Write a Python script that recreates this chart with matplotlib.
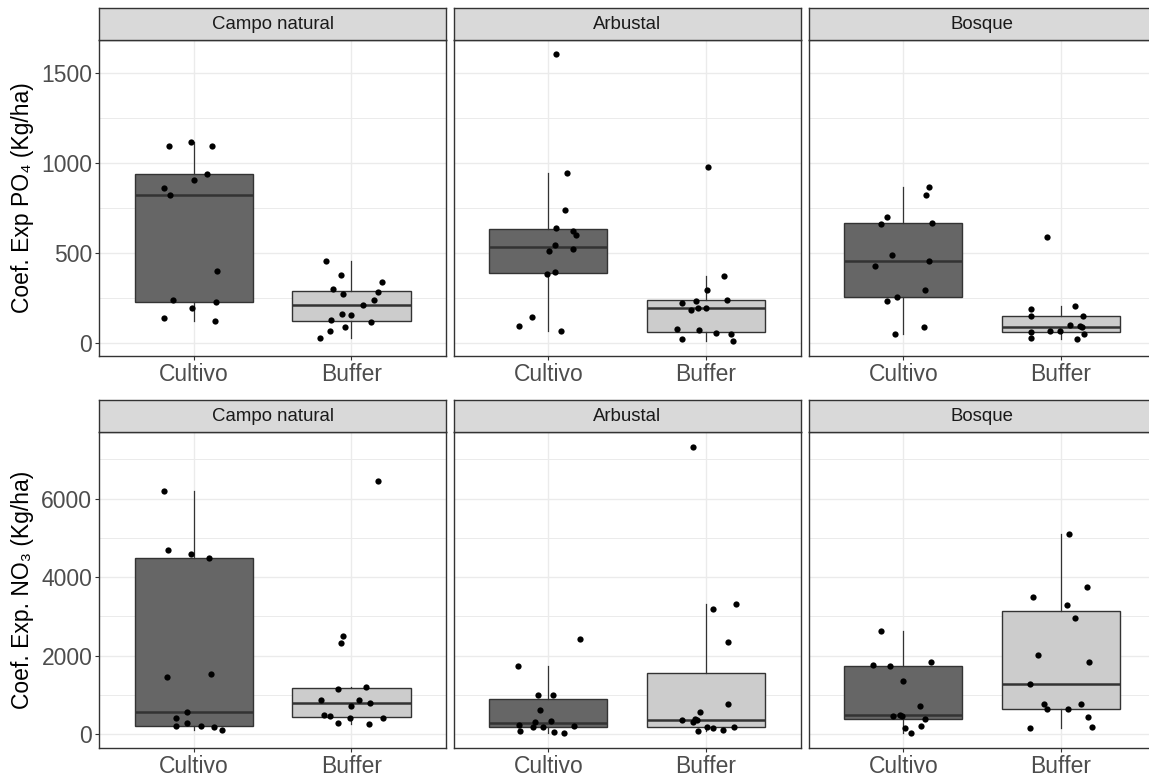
import matplotlib
matplotlib.use("Agg")
import matplotlib.pyplot as plt
from matplotlib.ticker import MultipleLocator

OUTPUT_PNG = "out.png"

COVERS = ["Campo natural", "Arbustal", "Bosque"]
GROUPS = ["Cultivo", "Buffer"]

# PO4 export coefficients (Kg/ha)
PO4_CAMPO_CULTIVO = [1092, 1117, 1092, 938, 903, 860, 819, 400, 238, 194, 225, 134, 121]
PO4_CAMPO_BUFFER = [452, 374, 296, 270, 335, 283, 238, 207, 160, 154, 128, 115, 84, 63, 24]
PO4_ARBUSTAL_CULTIVO = [1602, 944, 737, 638, 620, 599, 543, 523, 510, 395, 382, 143, 91, 65]
PO4_ARBUSTAL_BUFFER = [975, 368, 290, 238, 231, 218, 194, 194, 182, 78, 69, 52, 47, 19, 7]
PO4_BOSQUE_CULTIVO = [865, 819, 696, 664, 659, 489, 452, 426, 290, 251, 231, 84, 50]
PO4_BOSQUE_BUFFER = [586, 201, 188, 149, 149, 99, 93, 84, 63, 63, 60, 50, 24, 19]

# NO3 export coefficients (Kg/ha)
NO3_CAMPO_CULTIVO = [6205, 4690, 4596, 4485, 1541, 1446, 556, 402, 282, 197, 197, 171, 111]
NO3_CAMPO_BUFFER = [6462, 2491, 2311, 1207, 1147, 873, 856, 796, 702, 496, 462, 402, 402, 282, 257]
NO3_ARBUSTAL_CULTIVO = [2422, 1746, 1001, 1001, 616, 325, 300, 240, 214, 188, 171, 86, 51, 17]
NO3_ARBUSTAL_BUFFER = [7327, 3321, 3175, 2337, 762, 556, 385, 368, 351, 300, 171, 171, 146, 94, 86]
NO3_BOSQUE_CULTIVO = [2636, 1832, 1772, 1746, 1361, 702, 496, 471, 471, 385, 205, 146, 17]
NO3_BOSQUE_BUFFER = [5101, 3740, 3501, 3287, 2961, 2011, 1832, 1267, 762, 762, 633, 642, 437, 146, 171]

# horizontal jitter of each point (category units), same order as values
JIT_PO4_CAMPO_CULTIVO = [-0.156, -0.017, 0.117, 0.081, 0.0, -0.188, -0.149, 0.147, -0.134, -0.009, 0.139, -0.188, 0.132]
JIT_PO4_CAMPO_BUFFER = [-0.164, -0.068, -0.117, -0.053, 0.192, 0.171, 0.141, 0.075, -0.062, 0.0, -0.132, 0.124, -0.043, -0.139, -0.2]
JIT_PO4_ARBUSTAL_CULTIVO = [0.049, 0.116, 0.108, 0.049, 0.154, 0.175, 0.042, 0.154, 0.006, 0.044, -0.011, -0.104, -0.184, 0.080]
JIT_PO4_ARBUSTAL_BUFFER = [0.015, 0.116, 0.006, 0.131, -0.061, -0.154, -0.053, 0.0, -0.095, -0.186, -0.044, 0.063, 0.161, -0.154, 0.173]
JIT_PO4_BOSQUE_CULTIVO = [0.163, 0.146, -0.104, 0.184, -0.140, -0.074, 0.163, -0.178, 0.140, -0.038, -0.104, 0.131, -0.053]
JIT_PO4_BOSQUE_BUFFER = [-0.089, 0.089, -0.191, -0.191, 0.142, 0.059, 0.117, 0.133, -0.072, -0.006, -0.191, 0.148, -0.191, 0.104]

JIT_NO3_CAMPO_CULTIVO = [-0.188, -0.164, -0.017, 0.096, 0.111, -0.171, -0.045, -0.111, -0.045, -0.111, 0.045, 0.126, 0.177]
JIT_NO3_CAMPO_BUFFER = [0.171, -0.053, -0.068, 0.090, -0.083, -0.192, 0.045, 0.119, 0.0, -0.177, -0.139, -0.006, 0.2, -0.083, 0.111]
JIT_NO3_ARBUSTAL_CULTIVO = [0.199, -0.190, -0.068, 0.030, -0.051, 0.015, -0.082, -0.184, 0.161, -0.099, -0.036, -0.178, 0.036, 0.101]
JIT_NO3_ARBUSTAL_BUFFER = [-0.080, 0.190, 0.042, 0.140, 0.140, -0.036, -0.068, -0.060, -0.154, -0.082, 0.006, 0.175, 0.044, 0.108, -0.053]
JIT_NO3_BOSQUE_CULTIVO = [-0.140, 0.176, -0.193, -0.083, 0.0, 0.104, -0.021, -0.066, -0.006, 0.138, 0.110, 0.013, 0.051]
JIT_NO3_BOSQUE_BUFFER = [0.053, 0.163, -0.176, 0.036, 0.089, -0.148, 0.178, -0.199, -0.110, 0.127, -0.089, 0.044, 0.172, -0.199, 0.193]

ROWS = [
    {
        "ylabel": "Coef. Exp PO\u2084 (Kg/ha)",
        "major": 500,
        "data": [
            (PO4_CAMPO_CULTIVO, PO4_CAMPO_BUFFER),
            (PO4_ARBUSTAL_CULTIVO, PO4_ARBUSTAL_BUFFER),
            (PO4_BOSQUE_CULTIVO, PO4_BOSQUE_BUFFER),
        ],
        "jitter": [
            (JIT_PO4_CAMPO_CULTIVO, JIT_PO4_CAMPO_BUFFER),
            (JIT_PO4_ARBUSTAL_CULTIVO, JIT_PO4_ARBUSTAL_BUFFER),
            (JIT_PO4_BOSQUE_CULTIVO, JIT_PO4_BOSQUE_BUFFER),
        ],
    },
    {
        "ylabel": "Coef. Exp. NO\u2083 (Kg/ha)",
        "major": 2000,
        "data": [
            (NO3_CAMPO_CULTIVO, NO3_CAMPO_BUFFER),
            (NO3_ARBUSTAL_CULTIVO, NO3_ARBUSTAL_BUFFER),
            (NO3_BOSQUE_CULTIVO, NO3_BOSQUE_BUFFER),
        ],
        "jitter": [
            (JIT_NO3_CAMPO_CULTIVO, JIT_NO3_CAMPO_BUFFER),
            (JIT_NO3_ARBUSTAL_CULTIVO, JIT_NO3_ARBUSTAL_BUFFER),
            (JIT_NO3_BOSQUE_CULTIVO, JIT_NO3_BOSQUE_BUFFER),
        ],
    },
]

FILLS = ["#666666", "#CCCCCC"]
EDGE = "#333333"
GRID = "#EBEBEB"
FIG_W, FIG_H = 1149, 778

# panel geometry in pixels: (left, right) per column, (strip_top, panel_top, panel_bottom) per row
COL_X = [(99.3, 446.0), (453.7, 800.7), (808.7, 1155.7)]
ROW_Y = [(8.3, 40.0, 355.7), (400.3, 432.3, 747.7)]


def px_rect(x0, x1, y0, y1):
    return [x0 / FIG_W, 1 - y1 / FIG_H, (x1 - x0) / FIG_W, (y1 - y0) / FIG_H]


def style_panel(ax, major, show_y):
    ax.set_facecolor("white")
    ax.set_xticks([1, 2])
    ax.set_xticklabels(GROUPS)
    ax.yaxis.set_major_locator(MultipleLocator(major))
    ax.yaxis.set_minor_locator(MultipleLocator(major / 2))
    ax.grid(True, which="major", color=GRID, linewidth=1.0, zorder=0)
    ax.grid(True, which="minor", axis="y", color=GRID, linewidth=0.7, zorder=0)
    ax.set_axisbelow(True)
    for sp in ax.spines.values():
        sp.set_color(EDGE)
        sp.set_linewidth(1.0)
    ax.tick_params(axis="both", which="major", length=3, width=0.8, color=EDGE,
                   labelcolor="#4D4D4D", labelsize=16.5, pad=2)
    ax.tick_params(axis="y", which="minor", length=0)
    if not show_y:
        ax.tick_params(axis="y", which="major", length=0, labelleft=False)


def draw_strip(fig, rect, title):
    sax = fig.add_axes(rect)
    sax.set_facecolor("#D9D9D9")
    sax.set_xticks([])
    sax.set_yticks([])
    for sp in sax.spines.values():
        sp.set_color(EDGE)
        sp.set_linewidth(1.0)
    sax.text(0.5, 0.48, title, ha="center", va="center", fontsize=13.4,
             color="#1A1A1A", transform=sax.transAxes)


def main():
    plt.rcParams["font.family"] = ["Liberation Sans", "DejaVu Sans"]
    fig = plt.figure(figsize=(FIG_W / 100, FIG_H / 100), dpi=100)
    fig.patch.set_facecolor("white")

    for r, row in enumerate(ROWS):
        strip_top, panel_top, panel_bot = ROW_Y[r]
        all_vals = [v for pair in row["data"] for grp in pair for v in grp]
        lo, hi = min(all_vals), max(all_vals)
        pad = (hi - lo) * 0.05

        for c, cover in enumerate(COVERS):
            x0, x1 = COL_X[c]
            ax = fig.add_axes(px_rect(x0, x1, panel_top, panel_bot))

            vals = row["data"][c]
            jits = row["jitter"][c]
            bp = ax.boxplot(
                list(vals),
                positions=[1, 2],
                widths=0.75,
                whis=1.5,
                showfliers=False,
                showcaps=False,
                patch_artist=True,
                medianprops=dict(color=EDGE, linewidth=1.8),
                whiskerprops=dict(color=EDGE, linewidth=0.9),
                boxprops=dict(edgecolor=EDGE, linewidth=1.0),
                zorder=2,
            )
            for patch, fill in zip(bp["boxes"], FILLS):
                patch.set_facecolor(fill)

            for g in range(2):
                xs = [g + 1 + j for j in jits[g]]
                ax.plot(xs, vals[g], "o", color="black", markersize=4.5,
                        markeredgewidth=0, zorder=4)

            # boxplot resets ticks, so style afterwards
            style_panel(ax, row["major"], show_y=(c == 0))
            ax.set_xlim(0.4, 2.6)
            ax.set_ylim(lo - pad, hi + pad)

            draw_strip(fig, px_rect(x0, x1, strip_top, panel_top), cover)

            if c == 0:
                ax.set_ylabel(row["ylabel"], fontsize=16.5, color="black", labelpad=5)

    fig.savefig(OUTPUT_PNG, dpi=100)


if __name__ == "__main__":
    main()
